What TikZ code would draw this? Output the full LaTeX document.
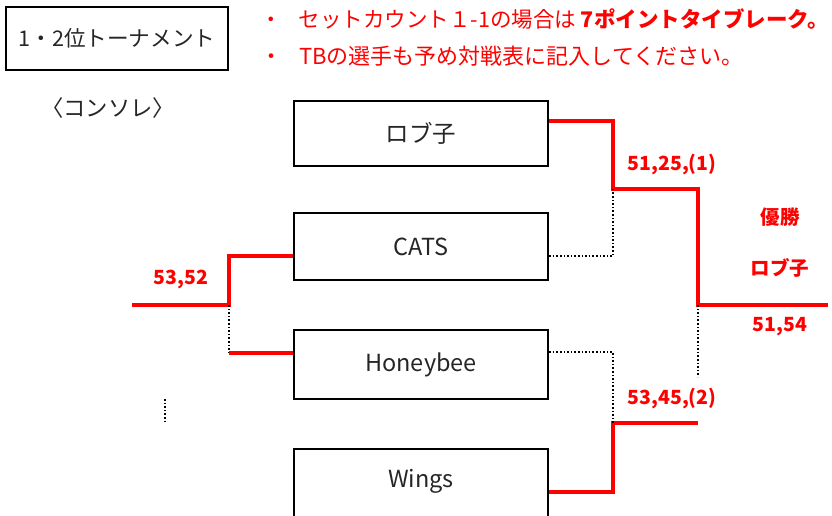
\documentclass[tikz,border=0pt]{standalone}
\usepackage{fontspec}
\setmainfont{Noto Sans CJK JP}
\begin{document}
\begin{tikzpicture}[x=1pt,y=-1pt,
  team/.style={draw=black,line width=2.2pt,inner sep=0pt,font=\fontsize{23.5}{28}\selectfont,text=black!85},
  titlebox/.style={draw=black,line width=2.2pt,inner sep=0pt,font=\fontsize{21.6}{26}\selectfont,text=black!85},
  win/.style={draw=red,line width=4pt},
  lose/.style={draw=black,line width=1.6pt,dotted},
  score/.style={text=red,font=\fontsize{19.5}{24}\selectfont\bfseries},
  note/.style={text=red,font=\fontsize{22}{26}\selectfont,anchor=west,inner sep=0pt},
  plain/.style={text=black!85,font=\fontsize{22.3}{26}\selectfont}]
\useasboundingbox (0,0) rectangle (832,515);
\clip (0,0) rectangle (832,515);
% title and notes
\node[titlebox,minimum width=222pt,minimum height=63pt] (title) at (117,38.5) {1・2位トーナメント};
\node[note,font=\fontsize{21.5}{26}\selectfont] (n1) at (260,19) {・\hspace{17pt}セットカウント１-1の場合は \textbf{7ポイントタイブレーク。}};
\node[note] (n2) at (260,56) {・\hspace{17pt}TBの選手も予め対戦表に記入してください。};
\node[plain] (conso) at (108,108) {〈コンソレ〉};
% teams
\node[team,minimum width=254pt,minimum height=65pt] (robu) at (421,133.5) {ロブ子};
\node[team,minimum width=254pt,minimum height=67pt] (cats) at (421,246.5) {CATS};
\node[team,minimum width=254pt,minimum height=69pt] (honey) at (421,364.5) {Honeybee};
\node[team,minimum width=254pt,minimum height=80pt] (wings) at (421,489) {};
\node[font=\fontsize{23.5}{28}\selectfont,text=black!85] (wingst) at (421,481) {Wings};
% coordinates
\coordinate (s1) at (613,189);
\coordinate (s2) at (613,423);
\coordinate (f) at (698,305);
\coordinate (fend) at (828,305);
\coordinate (c0) at (229,305);
\coordinate (cend) at (132,305);
\coordinate (d1) at (165,399);
\coordinate (d2) at (165,424);
% winner lines
\draw[win] (robu.east |- 0,121) -| (s1) -| (f) -- (fend);
\draw[win] (wings.east |- 0,492) -| (s2) -- (s2 -| f);
\draw[lose] (cats.east |- 0,256) -| (s1);
\draw[lose] (honey.east |- 0,352) -| (s2);
\draw[lose] (f) -- (698,377);
% consolation
\draw[win] (cats.west |- 0,256) -| (c0) -- (cend);
\draw[lose] (c0) -- (229,353);
\draw[win] (229,353) -- (honey.west |- 0,353);
\draw[lose] (d1) -- (d2);
% labels
\node[score] (l1) at (181,279) {53,52};
\node[score] (l2) at (672,165) {51,25,(1)};
\node[score] (l3) at (780,217) {優勝};
\node[score] (l4) at (780,268) {ロブ子};
\node[score] (l5) at (780,327) {51,54};
\node[score] (l6) at (672,399) {53,45,(2)};
\end{tikzpicture}
\end{document}
